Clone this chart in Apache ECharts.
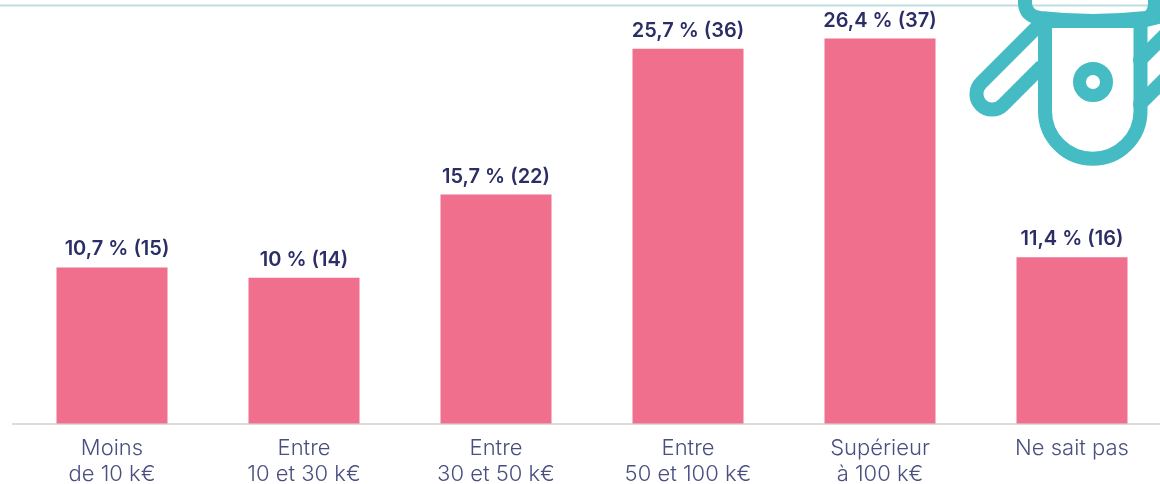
<!DOCTYPE html>
<html><head><meta charset="utf-8">
<style>html,body{margin:0;padding:0;background:#fff}#c{width:1160px;height:484px}</style>
<script src="https://cdn.jsdelivr.net/npm/echarts@6/dist/echarts.min.js"></script>
</head><body><div id="c"></div>
<script>
const categories = ["Moins\nde 10 k€","Entre\n10 et 30 k€","Entre\n30 et 50 k€","Entre\n50 et 100 k€","Supérieur\nà 100 k€","Ne sait pas"];
const percents = [10.7,10,15.7,25.7,26.4,11.4];
const counts = [15,14,22,36,37,16];
const teal = "#45bbc4";
const g = echarts.graphic;
g.registerShape('iconCap', g.extendPath('M1025,-10 L1025,4 Q1026,16 1040,18 Q1093,24 1146,18 Q1154,16 1155,4 L1155,-10'));
g.registerShape('iconBody', g.extendPath('M1045,22 L1045,111 A47.75,47.75 0 0 0 1140.5,111 L1140.5,22'));
g.registerShape('iconArm', g.extendPath('M1040,24 L981,83 A15,15 0 0 0 1003,105 L1042,66'));
const chart = echarts.init(document.getElementById('c'),null,{renderer:'canvas'});
const stroke = (w)=>({fill:null,stroke:teal,lineWidth:w,lineCap:'round',lineJoin:'round'});
chart.setOption({
  animation:false,
  grid:{left:16,right:-8,top:5,bottom:60.5,outerBoundsMode:'none',containLabel:false},
  xAxis:{type:'category',data:categories,
    axisTick:{show:false},axisLine:{show:false},
    axisLabel:{interval:0,margin:12,color:'#4b4f80',fontFamily:'Inter, "Noto Sans", sans-serif',fontSize:22,fontWeight:300,lineHeight:26}},
  yAxis:{type:'value',min:0,max:28.7,show:false},
  series:[{type:'bar',data:percents.map((v,i)=>i===0?{value:v,label:{offset:[5,0]}}:v),barWidth:111,itemStyle:{color:'#ef6f8c'},
    label:{show:true,position:'top',distance:8,color:'#2b2d66',fontFamily:'Inter, "Noto Sans", sans-serif',fontSize:20,fontWeight:600,
      formatter:p=>String(percents[p.dataIndex]).replace('.',',')+' % ('+counts[p.dataIndex]+')'}}],
  graphic:{elements:[
    {type:'line',silent:true,shape:{x1:0,y1:5.5,x2:1160,y2:5.5},style:{stroke:'#bfdde0',lineWidth:2}},
    {type:'line',silent:true,shape:{x1:12,y1:424,x2:1160,y2:424},style:{stroke:'#dcdcdf',lineWidth:2}},
    {type:'iconCap',z:5,style:stroke(14)},
    {type:'iconBody',z:5,style:stroke(14)},
    {type:'rect',z:5,shape:{x:1042,y:19,width:100,height:9},style:{fill:teal}},
    {type:'line',z:5,shape:{x1:1142,y1:21,x2:1166,y2:15},style:stroke(14)},
    {type:'circle',z:5,shape:{cx:1093,cy:82,r:13.5},style:stroke(13)},
    {type:'iconArm',z:4,style:Object.assign(stroke(14),{lineCap:'butt'})},
    {type:'line',z:4,shape:{x1:1140,y1:60,x2:1170,y2:30},style:stroke(14)},
    {type:'line',z:4,shape:{x1:1140,y1:104,x2:1170,y2:74},style:stroke(14)}
  ]}
});
</script></body></html>
